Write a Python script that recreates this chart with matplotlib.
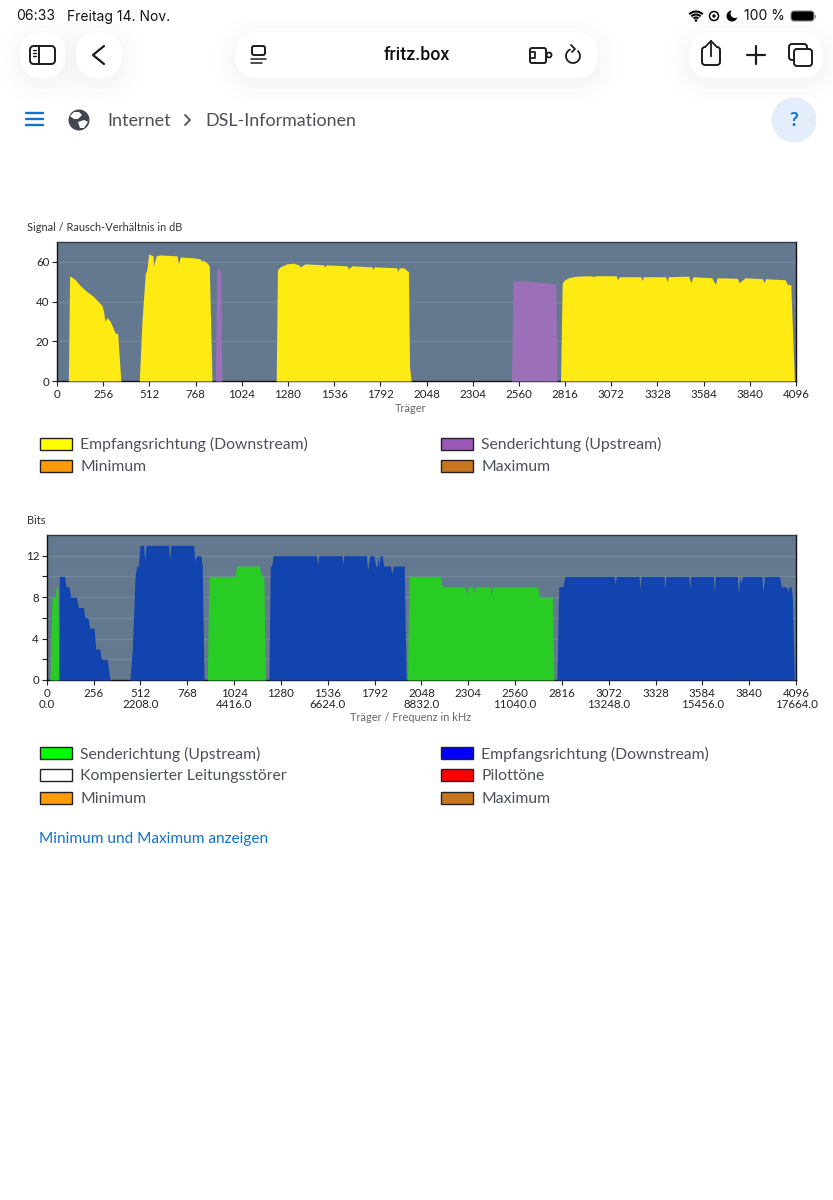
import matplotlib
matplotlib.use('Agg')
import matplotlib.pyplot as plt
from matplotlib.patches import Circle, FancyBboxPatch, Rectangle, Arc, Polygon

plt.rcParams['font.family'] = ['Lato', 'DejaVu Sans']

# Signal / Rausch-Verhaeltnis
snr_down_x = [63, 70, 102, 129, 166, 203, 249, 258, 266, 277, 295, 314, 323, 336, 354,
              456, 471, 489, 498, 508, 532, 535, 550, 572, 665, 674, 683, 757, 794, 803, 807, 831, 844, 859,
              1215, 1222, 1237, 1274, 1311, 1339, 1348, 1376, 1478, 1483, 1492, 1607, 1616, 1634, 1745, 1751,
              1758, 1884, 1887, 1897, 1921, 1948, 1954, 1963,
              2791, 2800, 2807, 2835, 2881, 2964, 2973, 2983, 3099, 3108, 3116, 3236, 3243, 3251, 3374, 3382,
              3389, 3500, 3515, 3524, 3629, 3650, 3659, 3771, 3781, 3814, 3910, 3919, 3928, 4035, 4050, 4067, 4087]
snr_down_y = [0, 53, 51, 48, 45, 42.5, 38, 35, 30, 32, 30, 26, 24, 24, 0,
              0, 30, 54, 56, 64, 63, 58, 63, 63.5, 63, 59, 62.5, 62, 61.5, 60, 61, 59.5, 58, 0,
              0, 56, 57.5, 59, 59.3, 58.5, 57.5, 59, 58.5, 57.3, 58.5, 58, 56.5, 58, 57.5, 56,
              57.5, 57, 55, 57, 57, 55, 7, 0,
              0, 49, 50.5, 52, 52.8, 53, 52.5, 53, 53, 51, 52.5, 52.5, 50.5, 52.5, 52.5, 49.8,
              52.5, 52.8, 49.5, 52.5, 52, 48.7, 52, 51.7, 49.5, 52, 51.5, 49.5, 51.5, 51, 48.5, 48.5, 0]
snr_up_x = [877, 886, 907, 914, 2519, 2528, 2604, 2696, 2765, 2772]
snr_up_y = [0, 55.8, 55.8, 0, 0, 50.4, 50.4, 49.5, 48.6, 0]

# Bits pro Traeger
bits_up_x = [18, 29, 46, 51, 60, 67,
             878, 887, 1029, 1038, 1162, 1173, 1187, 1196,
             1972, 1981, 2150, 2163, 2287, 2294, 2303, 2332, 2338, 2343, 2423, 2429, 2436, 2684, 2693, 2764, 2773]
bits_up_y = [0, 8, 8, 9, 9, 0,
             0, 10, 10, 11, 11, 10, 10, 0,
             0, 10, 10, 9, 9, 8.3, 9, 9, 8.3, 9, 9, 8, 9, 9, 8, 8, 0]
bits_down_x = [67, 69, 97, 106, 122, 131, 162, 173, 200, 209, 226, 235, 259, 268, 290, 299, 331, 346,
               455, 468, 483, 492, 501, 510, 530, 535, 543, 667, 672, 679, 803, 810, 818, 843, 850, 860,
               1215, 1222, 1229, 1238, 1475, 1481, 1488, 1614, 1619, 1624, 1748, 1754, 1767, 1788, 1799,
               1806, 1812, 1817, 1823, 1834, 1843, 1879, 1887, 1894, 1954, 1965,
               2789, 2799, 2822, 2833, 3101, 3108, 3114, 3238, 3243, 3249, 3374, 3380, 3385, 3509, 3515,
               3520, 3644, 3650, 3655, 3775, 3781, 3790, 3795, 3804, 3910, 3915, 3925, 4005, 4016, 4045,
               4050, 4058, 4069, 4076, 4087]
bits_down_y = [0, 10, 10, 9, 9, 8, 8, 7, 7, 6, 6, 5, 5, 3, 3, 2, 2, 0,
               0, 3, 10, 11, 11, 13, 13, 11.5, 13, 13, 11.5, 13, 13, 11.5, 12, 12, 11, 0,
               0, 11, 11, 12, 12, 11.2, 12, 12, 11.2, 12, 12, 10.6, 12, 12, 11,
               11, 12, 11, 12, 12, 11, 11, 10.3, 11, 11, 0,
               0, 9, 9, 10, 10, 9.3, 10, 10, 8.8, 10, 10, 8.8, 10, 10, 8.8,
               10, 10, 8.4, 10, 10, 8.4, 10, 9.3, 10, 10, 8.5, 10, 10, 9, 9,
               8.5, 9, 9, 8, 0]

carrier_ticks = list(range(0, 4097, 256))
carrier_labels = [str(c) for c in carrier_ticks]
bits_tick_labels = ['%d\n%.1f' % (c, c * 4.3125) if c % 512 == 0 else str(c) for c in carrier_ticks]

legend_snr = [('Empfangsrichtung (Downstream)', '#ffff00', 'Senderichtung (Upstream)', '#9b59b6'),
              ('Minimum', '#ff9a0a', 'Maximum', '#c8761e')]
legend_bits = [('Senderichtung (Upstream)', '#00ff00', 'Empfangsrichtung (Downstream)', '#0000ff'),
               ('Kompensierter Leitungsstörer', '#ffffff', 'Pilottöne', '#ff0000'),
               ('Minimum', '#ff9a0a', 'Maximum', '#c8761e')]

W, H = 833, 1200
BG = '#64798f'
GRID = '#73879b'
YELLOW = '#ffea14'
PURPLE = '#9c70b8'
GREEN = '#28cc25'
BLUE = '#1244b0'
TXT = '#4b5058'
ICON = '#1c1c1e'

fig = plt.figure(figsize=(W / 100, H / 100), dpi=100, facecolor='white')


def box(left, top, right, bottom):
    return [left / W, 1 - bottom / H, (right - left) / W, (bottom - top) / H]


# Seitenrahmen in Pixelkoordinaten
ui = fig.add_axes([0, 0, 1, 1], zorder=0)
ui.set_xlim(0, W)
ui.set_ylim(H, 0)
ui.axis('off')


def pill(x0, y0, x1, y1):
    r = (y1 - y0) / 2
    for grow, a in [(22, 0.004), (16, 0.005), (11, 0.006), (6, 0.007), (2, 0.008)]:
        ui.add_patch(FancyBboxPatch((x0 - grow, y0 - grow + 5), x1 - x0 + 2 * grow, y1 - y0 + 2 * grow,
                                    boxstyle='round,pad=0,rounding_size=%g' % (r + grow),
                                    fc='black', ec='none', alpha=a))
    ui.add_patch(FancyBboxPatch((x0, y0), x1 - x0, y1 - y0, boxstyle='round,pad=0,rounding_size=%g' % r,
                                fc='white', ec='none'))


def line(xs, ys, color=ICON, lw=1.4):
    ui.plot(xs, ys, color=color, lw=lw, solid_capstyle='round', solid_joinstyle='round')


def rrect(x0, y0, x1, y1, r=3, fc='none', ec=ICON, lw=1.4):
    ui.add_patch(FancyBboxPatch((x0, y0), x1 - x0, y1 - y0, boxstyle='round,pad=0,rounding_size=%g' % r,
                                fc=fc, ec=ec, lw=lw))


pill(20, 32, 66, 78)
pill(76, 32, 122, 78)
pill(235, 32, 598, 78)
pill(689, 32, 823, 78)

# Statuszeile
ui.text(16, 16.5, '06:33', fontsize=10, family='Inter', color='#111', va='center')
ui.text(67, 16.5, 'Freitag 14. Nov.', fontsize=10, family='Inter', color='#111', va='center')
ui.text(744, 16.5, '100 %', fontsize=10, family='Inter', color='#111', va='center')
rrect(791, 11, 814, 21, r=3, fc='black', ec='#888', lw=0.8)
ui.add_patch(Rectangle((815, 14.5), 1.5, 3.5, fc='#888', ec='none'))
for r in (3.5, 6.5, 9.5):
    ui.add_patch(Arc((696, 21), 2 * r, 2 * r, theta1=225, theta2=315, color='black', lw=1.5))
ui.add_patch(Circle((696, 20.5), 1.3, fc='black', ec='none'))
ui.add_patch(Circle((714, 16), 4.5, fc='none', ec='black', lw=1.1))
ui.add_patch(Circle((714, 16), 1.7, fc='black', ec='none'))
ui.add_patch(Circle((732, 16), 5.5, fc='black', ec='none'))
ui.add_patch(Circle((735, 13.5), 4.5, fc='white', ec='none'))

# Symbole Browserleiste
rrect(30, 46, 55, 64, r=4)
line([39, 39], [46, 64])
for yy in (50, 53, 56):
    line([33, 36], [yy, yy], lw=1)
line([104, 93, 104], [46, 55, 64], lw=1.6)
ui.text(416.5, 55, 'fritz.box', fontsize=12.8, family='Roboto', fontweight='medium', color='#111',
        ha='center', va='center')
rrect(252, 46, 265, 55, r=2)
line([251, 266], [59, 59], lw=1.1)
line([251, 262], [63, 63], lw=1.1)
rrect(530, 48, 546, 63, r=2)
ui.add_patch(Circle((549, 55), 2.5, fc='white', ec=ICON, lw=1.3))
line([530, 535, 535, 530], [52, 52, 58, 58], lw=1.3)
ui.add_patch(Arc((573, 56), 14, 14, theta1=-50, theta2=250, color=ICON, lw=1.3))
line([571, 575, 572], [45, 49, 52], lw=1.3)
rrect(702, 47, 720, 65, r=3)
ui.add_patch(Rectangle((706, 44), 10, 6, fc='white', ec='none', zorder=3))
ui.plot([706, 711, 716], [46, 41, 46], color=ICON, lw=1.3, zorder=4)
ui.plot([711, 711], [41, 56], color=ICON, lw=1.3, zorder=4)
line([747, 765], [55, 55], lw=1.6)
line([756, 756], [46, 64], lw=1.6)
rrect(789, 44, 807, 60, r=3)
rrect(794, 49, 812, 66, r=3, fc='white')

# Brotkrumen
for yy in (112.5, 118.5, 124.5):
    line([26, 43], [yy, yy], color='#1272d0', lw=1.7)
ui.add_patch(Circle((79, 120), 10.5, fc='#41474f', ec='none'))
ui.add_patch(Polygon([(70, 116), (74, 112), (79, 112), (82, 115), (78, 119), (74, 119)], fc='white', ec='none'))
ui.add_patch(Polygon([(78, 122), (84, 120), (88, 122), (84, 128), (80, 128)], fc='white', ec='none'))
ui.text(107.5, 121, 'Internet', fontsize=13, color=TXT, va='center')
line([185, 190, 185], [115, 120, 125], color=TXT, lw=1.3)
ui.text(205.5, 121, 'DSL-Informationen', fontsize=12.9, color=TXT, va='center')
ui.add_patch(Circle((794, 120), 22.5, fc='#e3eefa', ec='none'))
ui.text(794, 120, '?', fontsize=14, fontweight='bold', color='#1272d0', ha='center', va='center')

ui.text(27, 227.5, 'Signal / Rausch-Verhältnis in dB', fontsize=7.9, color='#333', va='center')
ui.text(27, 520.5, 'Bits', fontsize=7.9, color='#333', va='center')
ui.text(411, 408.5, 'Träger', fontsize=7.9, color='#666', ha='center', va='center')
ui.text(411, 717.5, 'Träger / Frequenz in kHz', fontsize=7.9, color='#666', ha='center', va='center')
ui.text(39, 838.5, 'Minimum und Maximum anzeigen', fontsize=11.05, color='#1272d0', va='center')


def legend(rows, y0):
    for i, (t1, c1, t2, c2) in enumerate(rows):
        y = y0 + i * 22.4
        for x, t, c in [(40, t1, c1), (441, t2, c2)]:
            ui.add_patch(Rectangle((x, y - 6), 32, 12, fc=c, ec='#222', lw=1))
            ui.text(x + 40.5, y + 1, t, fontsize=11.3, color=TXT, va='center')


legend(legend_snr, 443.5)
legend(legend_bits, 753)

# Oberes Diagramm
ax1 = fig.add_axes(box(57, 242, 796, 381), zorder=1)
ax1.set_facecolor(BG)
ax1.fill_between(snr_down_x, snr_down_y, 0, color=YELLOW, lw=0, zorder=3)
ax1.fill_between(snr_up_x, snr_up_y, 0, color=PURPLE, lw=0, zorder=3)
ax1.set_xlim(0, 4096)
ax1.set_ylim(0, 70)
ax1.set_yticks([0, 20, 40, 60])
ax1.set_xticks(carrier_ticks)
ax1.set_xticklabels(carrier_labels)
ax1.grid(axis='y', color=GRID, lw=1, zorder=1)
ax1.tick_params(labelsize=8.3, length=3.5, width=0.8, pad=2, colors='#222')

# Unteres Diagramm
ax2 = fig.add_axes(box(46.7, 535, 796, 680), zorder=1)
ax2.set_facecolor(BG)
ax2.fill_between(bits_up_x, bits_up_y, 0, color=GREEN, lw=0, zorder=3)
ax2.fill_between(bits_down_x, bits_down_y, 0, color=BLUE, lw=0, zorder=3)
ax2.set_xlim(0, 4096)
ax2.set_ylim(0, 14)
ax2.set_yticks([0, 4, 8, 12])
ax2.set_yticks([2, 6, 10], minor=True)
ax2.set_xticks(carrier_ticks)
ax2.set_xticklabels(bits_tick_labels, linespacing=1.05, va='top')
ax2.grid(axis='y', which='both', color=GRID, lw=1, zorder=1)
ax2.tick_params(labelsize=8.3, length=3.5, width=0.8, pad=2, colors='#222')
ax2.tick_params(which='minor', length=3.5, width=0.8, color='#222')

for ax in (ax1, ax2):
    for s in ax.spines.values():
        s.set_linewidth(1)
        s.set_color('#111')
    ax.spines['top'].set_color('#33393f')

fig.savefig('out.png', dpi=100)
